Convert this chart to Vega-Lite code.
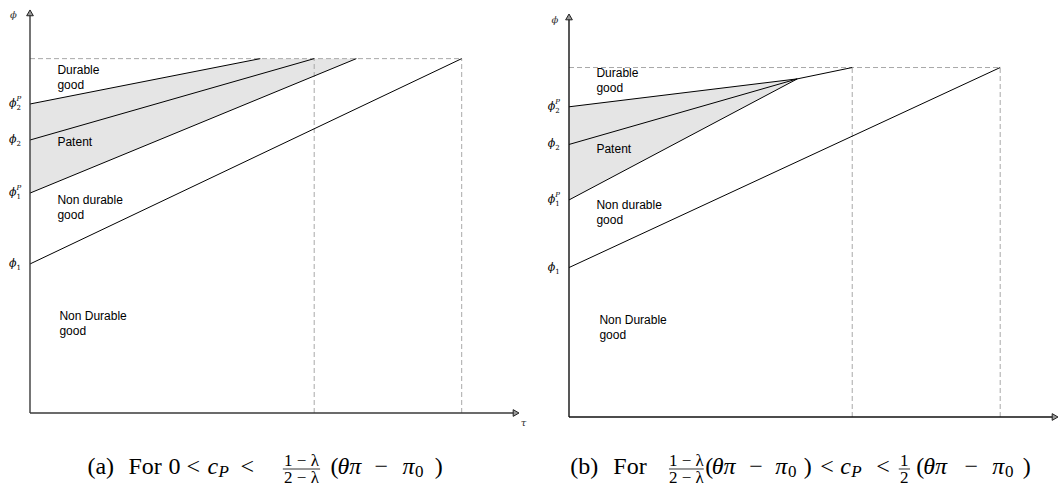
{
  "$schema": "https://vega.github.io/schema/vega-lite/v6.json",
  "autosize": {"type": "pad"},
  "bounds": "flush",
  "padding": 0,
  "spacing": 49,
  "config": {"view": {"stroke": null}},
  "datasets": {
    "aFrame": [{"x": -6.0204, "y": 101.975, "x2": -6.0204, "y2": 90}],
    "aPoly": [{"x": 0, "y": 76.3, "o": 1}, {"x": 47, "y": 87.5, "o": 2}, {"x": 66.6, "y": 87.5, "o": 3}, {"x": 0, "y": 54.3, "o": 4}],
    "aSolid": [
      {"x": 0, "y": 76.3, "x2": 47, "y2": 87.5},
      {"x": 0, "y": 67.4, "x2": 58, "y2": 87.5},
      {"x": 0, "y": 54.3, "x2": 66.6, "y2": 87.5},
      {"x": 0, "y": 36.8, "x2": 88.1, "y2": 87.5}
    ],
    "aDash": [
      {"x": 0, "y": 87.5, "x2": 88.1, "y2": 87.5},
      {"x": 58, "y": 0, "x2": 58, "y2": 87.5},
      {"x": 88.1, "y": 0, "x2": 88.1, "y2": 87.5}
    ],
    "aAxis": [{"x": 0, "y": 0, "x2": 0, "y2": 98.5}, {"x": 0, "y": 0, "x2": 98.8, "y2": 0}],
    "aArrow": [{"x": 0, "y": 98.8, "shape": "triangle-up"}, {"x": 99.2, "y": 0, "shape": "triangle-right"}],
    "aRegion": [
      {"x": 5.6, "y": 83.7, "t": "Durable\ngood"},
      {"x": 5.6, "y": 65.9, "t": "Patent"},
      {"x": 5.6, "y": 51.6, "t": "Non durable\ngood"},
      {"x": 6.0, "y": 23.0, "t": "Non Durable\ngood"}
    ],
    "aPhi": [{"x": -2.76, "y": 76.3}, {"x": -2.76, "y": 67.4}, {"x": -2.76, "y": 54.3}, {"x": -2.76, "y": 36.8}],
    "aSub": [{"x": -2.76, "y": 76.3, "t": "2"}, {"x": -2.76, "y": 67.4, "t": "2"}, {"x": -2.76, "y": 54.3, "t": "1"}, {"x": -2.76, "y": 36.8, "t": "1"}],
    "aSup": [{"x": -2.76, "y": 76.3, "t": "P"}, {"x": -2.76, "y": 54.3, "t": "P"}],
    "aSym": [{"x": -3.37, "y": 98.3, "t": "ϕ"}, {"x": 100.7, "y": -2.5, "t": "τ"}],
    "aCap": [
      {"x": 11.73, "y": -15.06, "t": "(a)", "st": "n", "s": 24},
      {"x": 20.1, "y": -15.06, "t": "For", "st": "n", "s": 24},
      {"x": 28.27, "y": -15.06, "t": "0", "st": "n", "s": 24},
      {"x": 31.94, "y": -15.06, "t": "<", "st": "n", "s": 24},
      {"x": 36.2, "y": -15.06, "t": "c", "st": "i", "s": 24},
      {"x": 38.47, "y": -15.8, "t": "P", "st": "i", "s": 17},
      {"x": 42.96, "y": -15.06, "t": "<", "st": "n", "s": 24},
      {"x": 55.41, "y": -13.09, "t": "1 − λ", "st": "f", "s": 17},
      {"x": 55.41, "y": -17.28, "t": "2 − λ", "st": "f", "s": 17},
      {"x": 61.33, "y": -15.06, "t": "(", "st": "n", "s": 24},
      {"x": 62.76, "y": -15.06, "t": "θπ", "st": "i", "s": 24},
      {"x": 70.3, "y": -15.06, "t": "−", "st": "n", "s": 24},
      {"x": 76.0, "y": -15.06, "t": "π", "st": "i", "s": 24},
      {"x": 78.55, "y": -15.8, "t": "0", "st": "n", "s": 17},
      {"x": 82.6, "y": -15.06, "t": ")", "st": "n", "s": 24}
    ],
    "aBar": [{"x": 51.6, "x2": 59.2, "y": -13.83}],
    "bPoly": [{"x": 0, "y": 76.6, "o": 1}, {"x": 46.6, "y": 83.5, "o": 2}, {"x": 0, "y": 53.6, "o": 3}],
    "bSolid": [
      {"x": 0, "y": 76.6, "x2": 46.6, "y2": 83.5},
      {"x": 0, "y": 67.3, "x2": 46.6, "y2": 83.5},
      {"x": 0, "y": 53.6, "x2": 46.6, "y2": 83.5},
      {"x": 46.6, "y": 83.5, "x2": 57.8, "y2": 86.3},
      {"x": 0, "y": 36.9, "x2": 88, "y2": 86.3}
    ],
    "bDash": [
      {"x": 0, "y": 86.3, "x2": 88, "y2": 86.3},
      {"x": 57.8, "y": 0, "x2": 57.8, "y2": 86.3},
      {"x": 88, "y": 0, "x2": 88, "y2": 86.3}
    ],
    "bAxis": [{"x": 0, "y": 0, "x2": 0, "y2": 98.5}, {"x": 0, "y": 0, "x2": 98.8, "y2": 0}],
    "bArrow": [{"x": 0, "y": 98.8, "shape": "triangle-up"}, {"x": 99.2, "y": 0, "shape": "triangle-right"}],
    "bRegion": [
      {"x": 5.6, "y": 84.0, "t": "Durable\ngood"},
      {"x": 5.6, "y": 65.2, "t": "Patent"},
      {"x": 5.6, "y": 51.4, "t": "Non durable\ngood"},
      {"x": 6.2, "y": 23.0, "t": "Non Durable\ngood"}
    ],
    "bPhi": [{"x": -2.8, "y": 76.6}, {"x": -2.8, "y": 67.3}, {"x": -2.8, "y": 53.6}, {"x": -2.8, "y": 36.9}],
    "bSub": [{"x": -2.8, "y": 76.6, "t": "2"}, {"x": -2.8, "y": 67.3, "t": "2"}, {"x": -2.8, "y": 53.6, "t": "1"}, {"x": -2.8, "y": 36.9, "t": "1"}],
    "bSup": [{"x": -2.8, "y": 76.6, "t": "P"}, {"x": -2.8, "y": 53.6, "t": "P"}],
    "bSym": [{"x": -2.9, "y": 98.0, "t": "ϕ"}, {"x": 100.7, "y": -2.5, "t": "τ"}],
    "bCap": [
      {"x": 0.27, "y": -14.07, "t": "(b)", "st": "n", "s": 24},
      {"x": 9.04, "y": -14.07, "t": "For", "st": "n", "s": 24},
      {"x": 23.94, "y": -12.1, "t": "1 − λ", "st": "f", "s": 17},
      {"x": 23.94, "y": -16.3, "t": "2 − λ", "st": "f", "s": 17},
      {"x": 27.82, "y": -14.07, "t": "(", "st": "n", "s": 24},
      {"x": 29.14, "y": -14.07, "t": "θπ", "st": "i", "s": 24},
      {"x": 36.8, "y": -14.07, "t": "−", "st": "n", "s": 24},
      {"x": 42.1, "y": -14.07, "t": "π", "st": "i", "s": 24},
      {"x": 44.7, "y": -14.81, "t": "0", "st": "n", "s": 17},
      {"x": 47.9, "y": -14.07, "t": ")", "st": "n", "s": 24},
      {"x": 51.29, "y": -14.07, "t": "<", "st": "n", "s": 24},
      {"x": 55.37, "y": -14.07, "t": "c", "st": "i", "s": 24},
      {"x": 57.61, "y": -14.81, "t": "P", "st": "i", "s": 17},
      {"x": 62.71, "y": -14.07, "t": "<", "st": "n", "s": 24},
      {"x": 68.43, "y": -12.1, "t": "1", "st": "f", "s": 17},
      {"x": 68.43, "y": -16.3, "t": "2", "st": "f", "s": 17},
      {"x": 70.88, "y": -14.07, "t": "(", "st": "n", "s": 24},
      {"x": 72.31, "y": -14.07, "t": "θπ", "st": "i", "s": 24},
      {"x": 80.7, "y": -14.07, "t": "−", "st": "n", "s": 24},
      {"x": 86.4, "y": -14.07, "t": "π", "st": "i", "s": 24},
      {"x": 89.0, "y": -14.81, "t": "0", "st": "n", "s": 17},
      {"x": 92.6, "y": -14.07, "t": ")", "st": "n", "s": 24}
    ],
    "bBar": [{"x": 20.4, "x2": 27.5, "y": -12.84}, {"x": 67.3, "x2": 69.6, "y": -12.84}]
  },
  "hconcat": [
    {
      "width": 490,
      "height": 405,
      "layer": [
        {
          "data": {"name": "aFrame"},
          "mark": {"type": "rule", "stroke": "transparent", "strokeWidth": 0},
          "encoding": {
            "x": {"field": "x", "type": "quantitative", "scale": {"domain": [0, 100], "nice": false, "zero": false}, "axis": null},
            "y": {"field": "y", "type": "quantitative", "scale": {"domain": [0, 100], "nice": false, "zero": false}, "axis": null},
            "x2": {"field": "x2"}, "y2": {"field": "y2"}
          }
        },
        {
          "data": {"name": "aPoly"},
          "mark": {"type": "line", "fill": "#e5e5e5", "strokeWidth": 0},
          "encoding": {
            "x": {"field": "x", "type": "quantitative", "axis": null},
            "y": {"field": "y", "type": "quantitative", "axis": null},
            "order": {"field": "o", "type": "quantitative"}
          }
        },
        {
          "data": {"name": "aDash"},
          "mark": {"type": "rule", "color": "#a8a8a8", "strokeWidth": 1, "strokeDash": [5, 3]},
          "encoding": {"x": {"field": "x", "type": "quantitative", "axis": null}, "y": {"field": "y", "type": "quantitative", "axis": null}, "x2": {"field": "x2"}, "y2": {"field": "y2"}}
        },
        {
          "data": {"name": "aSolid"},
          "mark": {"type": "rule", "color": "#000000", "strokeWidth": 1},
          "encoding": {"x": {"field": "x", "type": "quantitative", "axis": null}, "y": {"field": "y", "type": "quantitative", "axis": null}, "x2": {"field": "x2"}, "y2": {"field": "y2"}}
        },
        {
          "data": {"name": "aAxis"},
          "mark": {"type": "rule", "color": "#3a3a3a", "strokeWidth": 1.4},
          "encoding": {"x": {"field": "x", "type": "quantitative", "axis": null}, "y": {"field": "y", "type": "quantitative", "axis": null}, "x2": {"field": "x2"}, "y2": {"field": "y2"}}
        },
        {
          "data": {"name": "aBar"},
          "mark": {"type": "rule", "color": "#000000", "strokeWidth": 0.8},
          "encoding": {"x": {"field": "x", "type": "quantitative", "axis": null}, "y": {"field": "y", "type": "quantitative", "axis": null}, "x2": {"field": "x2"}}
        },
        {
          "data": {"name": "aArrow"},
          "mark": {"type": "point", "filled": true, "fill": "#9a9a9a", "stroke": "#222222", "strokeWidth": 1, "size": 45, "opacity": 1},
          "encoding": {"x": {"field": "x", "type": "quantitative", "axis": null}, "y": {"field": "y", "type": "quantitative", "axis": null}, "shape": {"field": "shape", "type": "nominal", "scale": null}}
        },
        {
          "data": {"name": "aRegion"},
          "mark": {"type": "text", "align": "left", "baseline": "alphabetic", "font": "Liberation Sans", "fontSize": 12, "lineBreak": "\n", "lineHeight": 15, "color": "#000000"},
          "encoding": {"x": {"field": "x", "type": "quantitative", "axis": null}, "y": {"field": "y", "type": "quantitative", "axis": null}, "text": {"field": "t"}}
        },
        {
          "data": {"name": "aPhi"},
          "mark": {"type": "text", "text": "ϕ", "align": "right", "baseline": "middle", "font": "DejaVu Serif", "fontStyle": "italic", "fontSize": 11, "color": "#000000"},
          "encoding": {"x": {"field": "x", "type": "quantitative", "axis": null}, "y": {"field": "y", "type": "quantitative", "axis": null}}
        },
        {
          "data": {"name": "aSub"},
          "mark": {"type": "text", "align": "left", "baseline": "middle", "dy": 4, "font": "DejaVu Serif", "fontSize": 7, "color": "#000000"},
          "encoding": {"x": {"field": "x", "type": "quantitative", "axis": null}, "y": {"field": "y", "type": "quantitative", "axis": null}, "text": {"field": "t"}}
        },
        {
          "data": {"name": "aSup"},
          "mark": {"type": "text", "align": "left", "baseline": "middle", "dy": -5, "font": "DejaVu Serif", "fontStyle": "italic", "fontSize": 7, "color": "#000000"},
          "encoding": {"x": {"field": "x", "type": "quantitative", "axis": null}, "y": {"field": "y", "type": "quantitative", "axis": null}, "text": {"field": "t"}}
        },
        {
          "data": {"name": "aSym"},
          "mark": {"type": "text", "align": "center", "baseline": "middle", "font": "DejaVu Serif", "fontStyle": "italic", "fontSize": 10, "color": "#333333"},
          "encoding": {"x": {"field": "x", "type": "quantitative", "axis": null}, "y": {"field": "y", "type": "quantitative", "axis": null}, "text": {"field": "t"}}
        },
        {
          "data": {"name": "aCap"},
          "transform": [{"filter": "datum.st == 'n'"}],
          "mark": {"type": "text", "align": "left", "baseline": "alphabetic", "font": "Liberation Serif", "color": "#000000"},
          "encoding": {"x": {"field": "x", "type": "quantitative", "axis": null}, "y": {"field": "y", "type": "quantitative", "axis": null}, "text": {"field": "t"}, "size": {"field": "s", "type": "quantitative", "scale": null}}
        },
        {
          "data": {"name": "aCap"},
          "transform": [{"filter": "datum.st == 'f'"}],
          "mark": {"type": "text", "align": "center", "baseline": "alphabetic", "font": "Liberation Serif", "color": "#000000"},
          "encoding": {"x": {"field": "x", "type": "quantitative", "axis": null}, "y": {"field": "y", "type": "quantitative", "axis": null}, "text": {"field": "t"}, "size": {"field": "s", "type": "quantitative", "scale": null}}
        },
        {
          "data": {"name": "aCap"},
          "transform": [{"filter": "datum.st == 'i'"}],
          "mark": {"type": "text", "align": "left", "baseline": "alphabetic", "font": "Liberation Serif", "fontStyle": "italic", "color": "#000000"},
          "encoding": {"x": {"field": "x", "type": "quantitative", "axis": null}, "y": {"field": "y", "type": "quantitative", "axis": null}, "text": {"field": "t"}, "size": {"field": "s", "type": "quantitative", "scale": null}}
        }
      ]
    },
    {
      "width": 490,
      "height": 409,
      "layer": [
        {
          "data": {"name": "bPoly"},
          "mark": {"type": "line", "fill": "#e5e5e5", "strokeWidth": 0},
          "encoding": {
            "x": {"field": "x", "type": "quantitative", "scale": {"domain": [0, 100], "nice": false, "zero": false}, "axis": null},
            "y": {"field": "y", "type": "quantitative", "scale": {"domain": [0, 101], "nice": false, "zero": false}, "axis": null},
            "order": {"field": "o", "type": "quantitative"}
          }
        },
        {
          "data": {"name": "bDash"},
          "mark": {"type": "rule", "color": "#a8a8a8", "strokeWidth": 1, "strokeDash": [5, 3]},
          "encoding": {"x": {"field": "x", "type": "quantitative", "axis": null}, "y": {"field": "y", "type": "quantitative", "axis": null}, "x2": {"field": "x2"}, "y2": {"field": "y2"}}
        },
        {
          "data": {"name": "bSolid"},
          "mark": {"type": "rule", "color": "#000000", "strokeWidth": 1},
          "encoding": {"x": {"field": "x", "type": "quantitative", "axis": null}, "y": {"field": "y", "type": "quantitative", "axis": null}, "x2": {"field": "x2"}, "y2": {"field": "y2"}}
        },
        {
          "data": {"name": "bAxis"},
          "mark": {"type": "rule", "color": "#111111", "strokeWidth": 1.4},
          "encoding": {"x": {"field": "x", "type": "quantitative", "axis": null}, "y": {"field": "y", "type": "quantitative", "axis": null}, "x2": {"field": "x2"}, "y2": {"field": "y2"}}
        },
        {
          "data": {"name": "bBar"},
          "mark": {"type": "rule", "color": "#000000", "strokeWidth": 0.8},
          "encoding": {"x": {"field": "x", "type": "quantitative", "axis": null}, "y": {"field": "y", "type": "quantitative", "axis": null}, "x2": {"field": "x2"}}
        },
        {
          "data": {"name": "bArrow"},
          "mark": {"type": "point", "filled": true, "fill": "#9a9a9a", "stroke": "#222222", "strokeWidth": 1, "size": 45, "opacity": 1},
          "encoding": {"x": {"field": "x", "type": "quantitative", "axis": null}, "y": {"field": "y", "type": "quantitative", "axis": null}, "shape": {"field": "shape", "type": "nominal", "scale": null}}
        },
        {
          "data": {"name": "bRegion"},
          "mark": {"type": "text", "align": "left", "baseline": "alphabetic", "font": "Liberation Sans", "fontSize": 12, "lineBreak": "\n", "lineHeight": 15, "color": "#000000"},
          "encoding": {"x": {"field": "x", "type": "quantitative", "axis": null}, "y": {"field": "y", "type": "quantitative", "axis": null}, "text": {"field": "t"}}
        },
        {
          "data": {"name": "bPhi"},
          "mark": {"type": "text", "text": "ϕ", "align": "right", "baseline": "middle", "font": "DejaVu Serif", "fontStyle": "italic", "fontSize": 11, "color": "#000000"},
          "encoding": {"x": {"field": "x", "type": "quantitative", "axis": null}, "y": {"field": "y", "type": "quantitative", "axis": null}}
        },
        {
          "data": {"name": "bSub"},
          "mark": {"type": "text", "align": "left", "baseline": "middle", "dy": 4, "font": "DejaVu Serif", "fontSize": 7, "color": "#000000"},
          "encoding": {"x": {"field": "x", "type": "quantitative", "axis": null}, "y": {"field": "y", "type": "quantitative", "axis": null}, "text": {"field": "t"}}
        },
        {
          "data": {"name": "bSup"},
          "mark": {"type": "text", "align": "left", "baseline": "middle", "dy": -5, "font": "DejaVu Serif", "fontStyle": "italic", "fontSize": 7, "color": "#000000"},
          "encoding": {"x": {"field": "x", "type": "quantitative", "axis": null}, "y": {"field": "y", "type": "quantitative", "axis": null}, "text": {"field": "t"}}
        },
        {
          "data": {"name": "bSym"},
          "mark": {"type": "text", "align": "center", "baseline": "middle", "font": "DejaVu Serif", "fontStyle": "italic", "fontSize": 10, "color": "#333333"},
          "encoding": {"x": {"field": "x", "type": "quantitative", "axis": null}, "y": {"field": "y", "type": "quantitative", "axis": null}, "text": {"field": "t"}}
        },
        {
          "data": {"name": "bCap"},
          "transform": [{"filter": "datum.st == 'n'"}],
          "mark": {"type": "text", "align": "left", "baseline": "alphabetic", "font": "Liberation Serif", "color": "#000000"},
          "encoding": {"x": {"field": "x", "type": "quantitative", "axis": null}, "y": {"field": "y", "type": "quantitative", "axis": null}, "text": {"field": "t"}, "size": {"field": "s", "type": "quantitative", "scale": null}}
        },
        {
          "data": {"name": "bCap"},
          "transform": [{"filter": "datum.st == 'f'"}],
          "mark": {"type": "text", "align": "center", "baseline": "alphabetic", "font": "Liberation Serif", "color": "#000000"},
          "encoding": {"x": {"field": "x", "type": "quantitative", "axis": null}, "y": {"field": "y", "type": "quantitative", "axis": null}, "text": {"field": "t"}, "size": {"field": "s", "type": "quantitative", "scale": null}}
        },
        {
          "data": {"name": "bCap"},
          "transform": [{"filter": "datum.st == 'i'"}],
          "mark": {"type": "text", "align": "left", "baseline": "alphabetic", "font": "Liberation Serif", "fontStyle": "italic", "color": "#000000"},
          "encoding": {"x": {"field": "x", "type": "quantitative", "axis": null}, "y": {"field": "y", "type": "quantitative", "axis": null}, "text": {"field": "t"}, "size": {"field": "s", "type": "quantitative", "scale": null}}
        }
      ]
    }
  ]
}
